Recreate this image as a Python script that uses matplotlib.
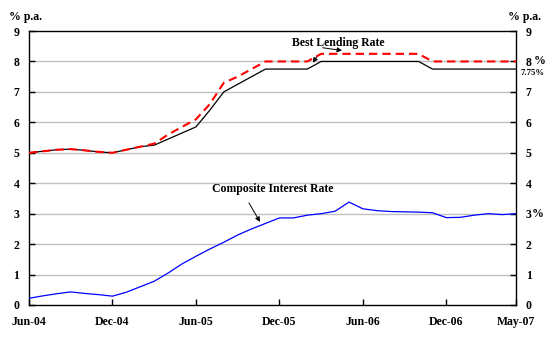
import numpy as np
import matplotlib.pyplot as plt

plt.rcParams['font.family'] = ['Liberation Serif', 'DejaVu Serif']
plt.rcParams['font.weight'] = 'bold'

# Monthly observations, Jun-04 .. May-07
months = np.arange(36)
tick_pos = [0, 6, 12, 18, 24, 30, 35]
tick_labels = ['Jun-04', 'Dec-04', 'Jun-05', 'Dec-05', 'Jun-06', 'Dec-06', 'May-07']

blr_high = [5.0, 5.05, 5.1, 5.12, 5.08, 5.03, 5.0, 5.1, 5.2, 5.3, 5.6, 5.85,
            6.1, 6.6, 7.3, 7.5, 7.75, 8.0, 8.0, 8.0, 8.0, 8.25, 8.25, 8.25,
            8.25, 8.25, 8.25, 8.25, 8.25, 8.0, 8.0, 8.0, 8.0, 8.0, 8.0, 8.0]
blr_low = [5.0, 5.05, 5.1, 5.12, 5.08, 5.03, 5.0, 5.1, 5.2, 5.25, 5.45, 5.65,
           5.85, 6.4, 7.0, 7.25, 7.5, 7.75, 7.75, 7.75, 7.75, 8.0, 8.0, 8.0,
           8.0, 8.0, 8.0, 8.0, 8.0, 7.75, 7.75, 7.75, 7.75, 7.75, 7.75, 7.75]
composite = [0.22, 0.3, 0.37, 0.43, 0.38, 0.34, 0.29, 0.42, 0.6, 0.78, 1.05, 1.35,
             1.6, 1.84, 2.06, 2.3, 2.5, 2.68, 2.86, 2.86, 2.95, 3.0, 3.08, 3.38,
             3.16, 3.1, 3.07, 3.06, 3.05, 3.03, 2.87, 2.88, 2.95, 3.0, 2.97, 3.0]

fig = plt.figure(figsize=(5.54, 3.43), dpi=100)
ax = fig.add_axes([0.0523, 0.1108, 0.8791, 0.7988])

for v in range(1, 9):
    ax.axhline(v, color='#c0c0c0', lw=1, zorder=1)

ax.plot(months, blr_low, color='black', lw=0.9, zorder=3)
ax.plot(months, blr_high, color='red', lw=1.5, ls=(0, (4, 2.4)), zorder=4)
ax.plot(months, composite, color='blue', lw=0.9, zorder=3)

ax.set_xlim(0, 35)
ax.set_ylim(0, 9)
ax.set_xticks(tick_pos)
ax.set_xticklabels(tick_labels)
ax.set_yticks(range(10))
ax.tick_params(axis='both', direction='in', length=4, width=1, labelsize=8.5)
ax.tick_params(axis='y', right=True, labelright=True, pad=7)
ax.tick_params(axis='x', pad=8)
for s in ax.spines.values():
    s.set_linewidth(1)

ax.text(-0.04, 1.04, '% p.a.', transform=ax.transAxes, fontsize=8.5, ha='left')
ax.text(1.018, 1.04, '% p.a.', transform=ax.transAxes, fontsize=8.5, ha='center')
ax.text(36.3, 8, '%', fontsize=8.5, ha='left', va='center', clip_on=False)
ax.text(35.3, 7.62, '7.75%', fontsize=6.3, ha='left', va='center', clip_on=False)
ax.text(36.15, 3, '%', fontsize=8.5, ha='left', va='center', clip_on=False)

arrow = dict(arrowstyle='-|>', color='black', lw=0.7, mutation_scale=7)
ax.annotate('Best Lending Rate', xy=(20.4, 7.96), xytext=(22.2, 8.62),
            fontsize=8.5, ha='center', va='center',
            arrowprops=dict(arrow, shrinkA=4, shrinkB=0, relpos=(0.33, 0)))
ax.annotate('', xy=(22.5, 8.36), xytext=(21.1, 8.45),
            arrowprops=dict(arrow, shrinkA=0, shrinkB=0))
ax.annotate('Composite Interest Rate', xy=(16.6, 2.73), xytext=(17.5, 3.8),
            fontsize=8.5, ha='center', va='center',
            arrowprops=dict(arrow, shrinkA=4, shrinkB=0, relpos=(0.27, 0)))

fig.savefig('out.png', dpi=100)
